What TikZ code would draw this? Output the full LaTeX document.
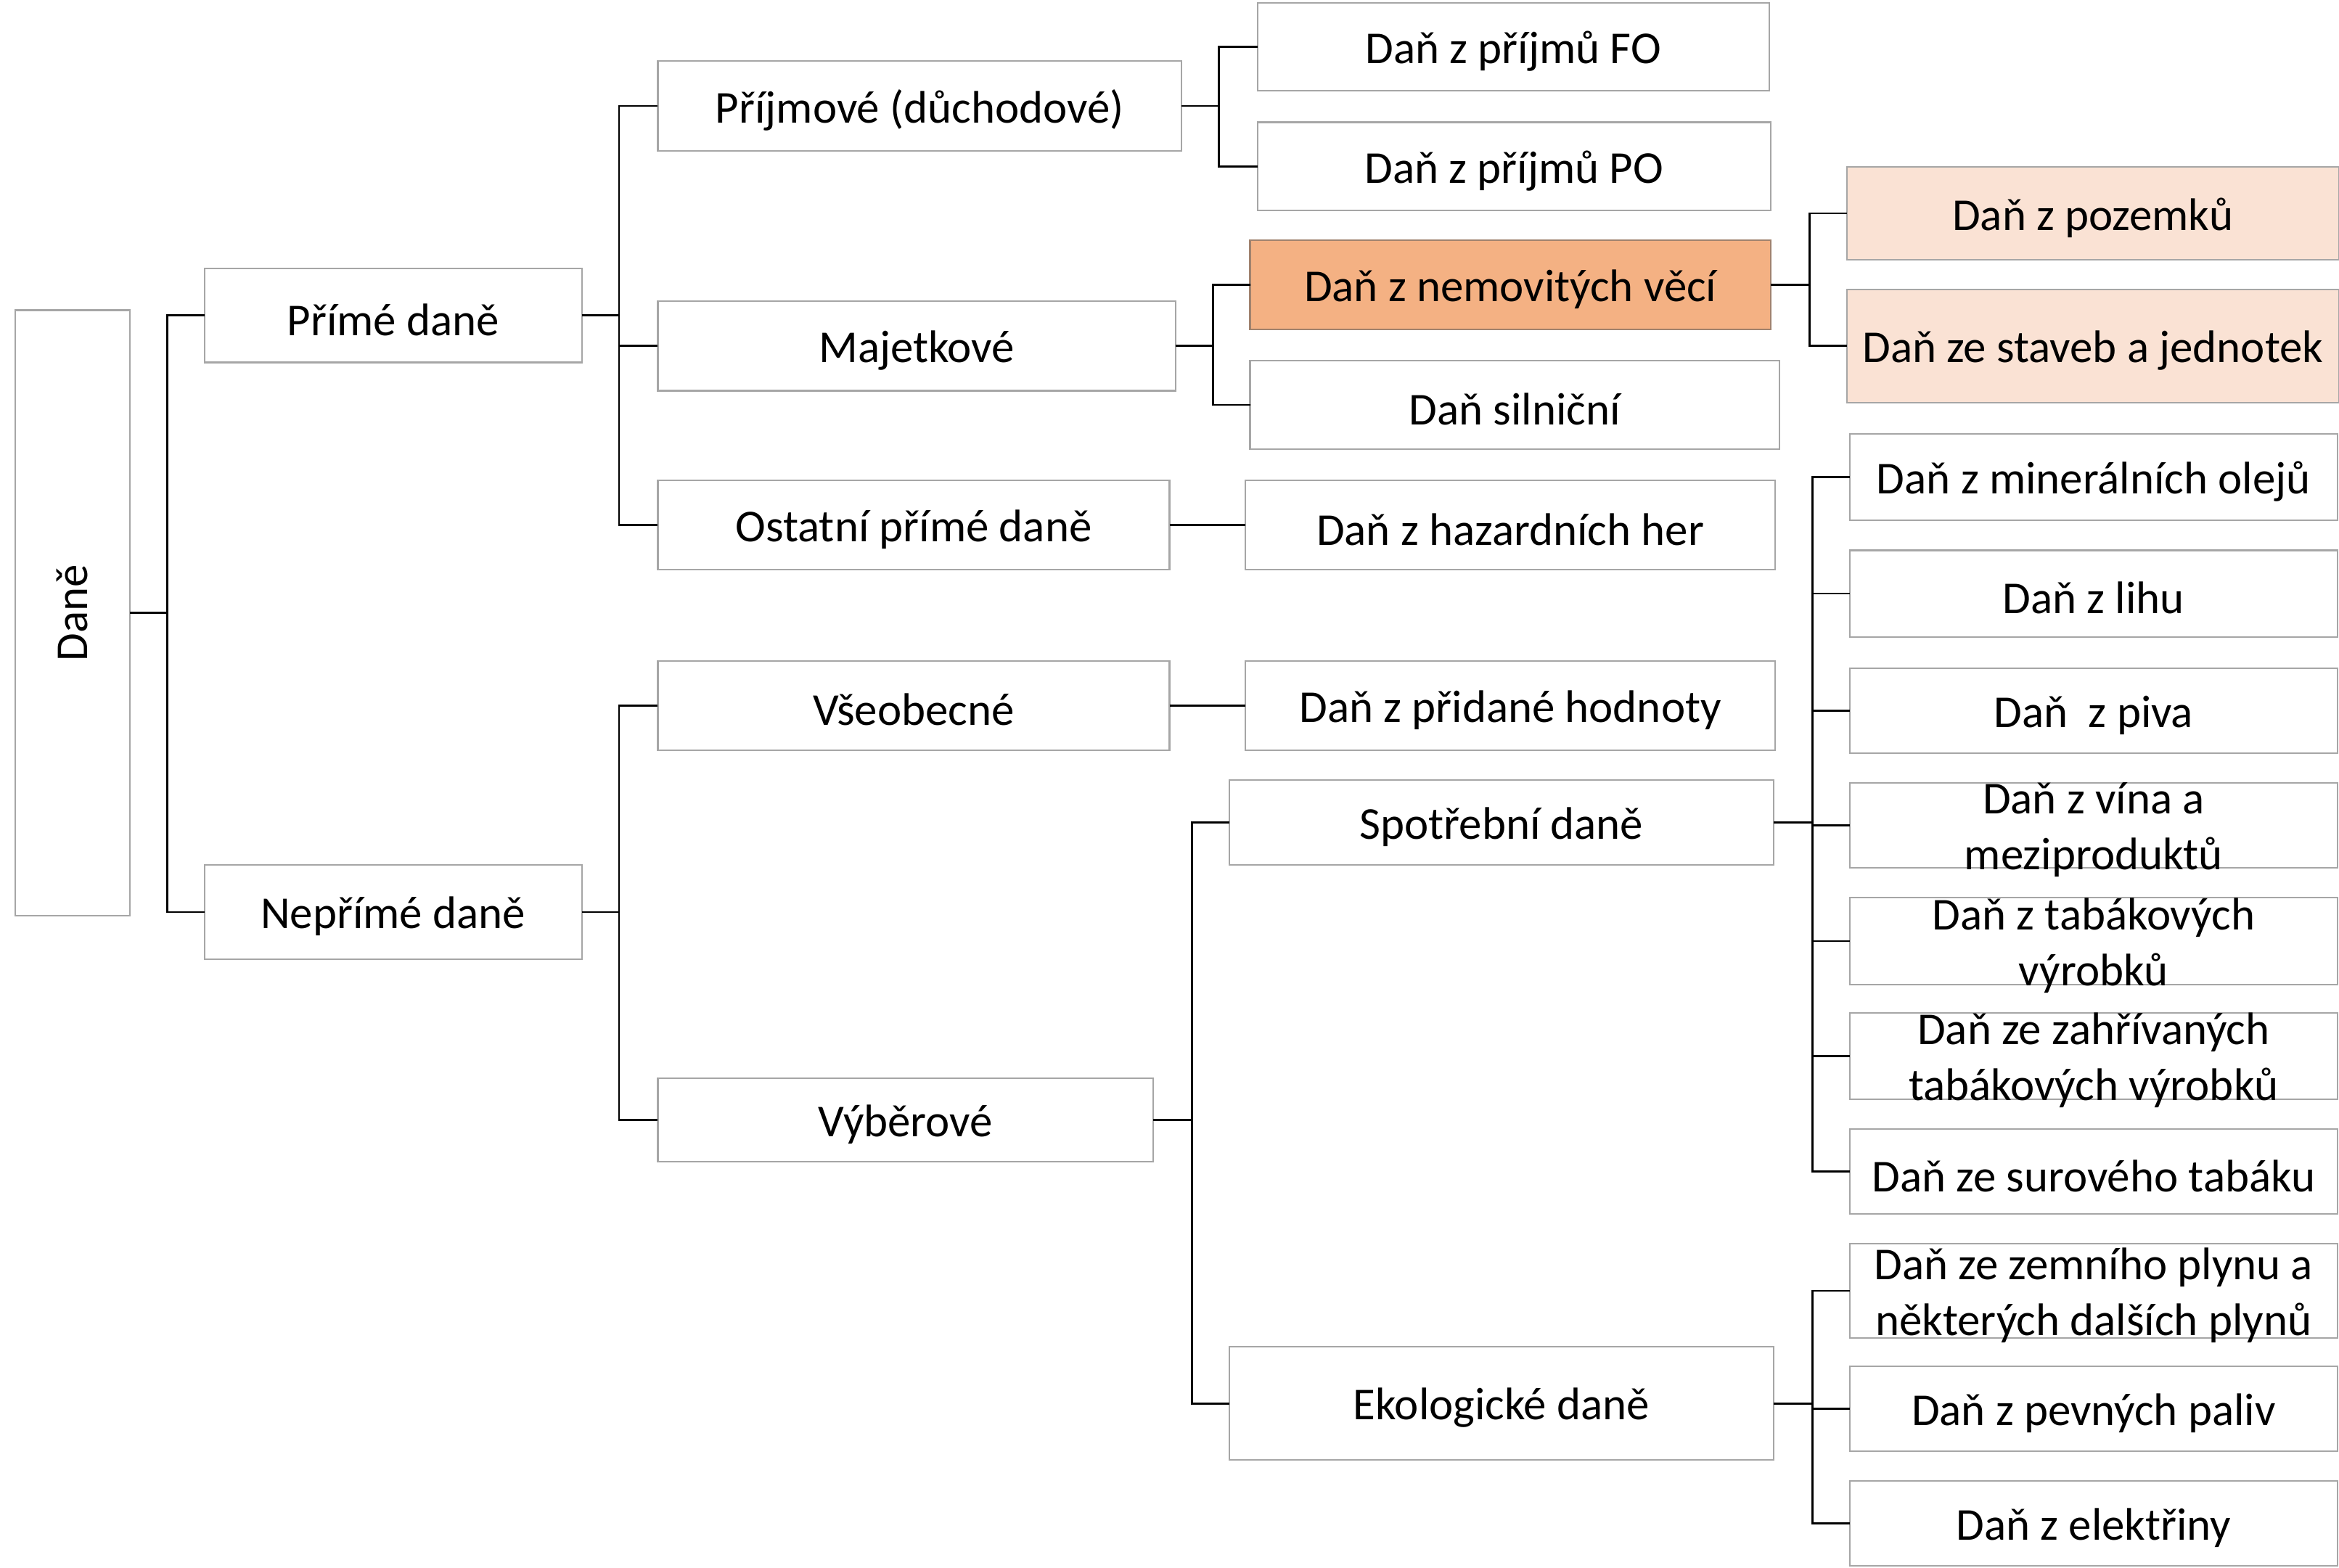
\documentclass[tikz,border=0pt]{standalone}
\usepackage{fontspec}
\setmainfont{Carlito}
\usetikzlibrary{fit}
\definecolor{boxgray}{RGB}{166,166,166}
\definecolor{orangefill}{RGB}{244,177,131}
\definecolor{orangeline}{RGB}{160,130,110}
\definecolor{peachfill}{RGB}{250,226,212}
\newcommand\dtext{\fontsize{17.9pt}{21.9pt}\selectfont}
\tikzset{
  box/.style={draw=boxgray, line width=0.6pt, fill=white, inner sep=0pt, outer sep=0pt},
  labbase/.style={font=\dtext, align=center, inner sep=0pt, text=black},
  lab/.style={labbase, yshift=-0.06cm},
  conn/.style={draw=black, line width=0.8pt},
}
\begin{document}
\begin{tikzpicture}[x=0.020555cm,y=-0.020555cm]
\useasboundingbox[fill=white] (0,0) rectangle (1568,1051);
% level 0
\node[box, fit={(10,208)(87,614)}, label={[labbase,rotate=90]center:Daně}] (dane) {};
% level 1
\node[box, fit={(137,180)(390,243)}, label={[lab]center:Přímé daně}] (prime) {};
\node[box, fit={(137,580)(390,643)}, label={[lab]center:Nepřímé daně}] (neprime) {};
% level 2
\node[box, fit={(441,41)(792,101)}, label={[lab]center:Příjmové (důchodové)}] (prij) {};
\node[box, fit={(441,202)(788,262)}, label={[lab]center:Majetkové}] (majet) {};
\node[box, fit={(441,322)(784,382)}, label={[lab]center:Ostatní přímé daně}] (ostat) {};
\node[box, fit={(441,443)(784,503)}, label={[lab]center:Všeobecné}] (vseob) {};
\node[box, fit={(441,723)(773,779)}, label={[lab]center:Výběrové}] (vyber) {};
% level 3
\node[box, fit={(843,2)(1186,61)}, label={[lab]center:Daň z příjmů FO}] (fo) {};
\node[box, fit={(843,82)(1187,141)}, label={[lab]center:Daň z příjmů PO}] (po) {};
\node[box, draw=orangeline, fill=orangefill, fit={(838,161)(1187,221)}, label={[lab]center:Daň z nemovitých věcí}] (nemov) {};
\node[box, fit={(838,242)(1193,301)}, label={[lab]center:Daň silniční}] (silnic) {};
\node[box, fit={(835,322)(1190,382)}, label={[lab]center:Daň z hazardních her}] (hazard) {};
\node[box, fit={(835,443)(1190,503)}, label={[lab]center:Daň z přidané hodnoty}] (dph) {};
\node[box, fit={(824,523)(1189,580)}, label={[lab]center:Spotřební daně}] (spotr) {};
\node[box, fit={(824,903)(1189,979)}, label={[lab]center:Ekologické daně}] (ekol) {};
% level 4
\node[box, fill=peachfill, fit={(1238,112)(1568,174)}, label={[lab]center:Daň z pozemků}] (pozem) {};
\node[box, fill=peachfill, fit={(1238,194)(1568,270)}, label={[lab]center:Daň ze staveb a jednotek}] (staveb) {};
\node[box, fit={(1240,291)(1567,349)}, label={[lab]center:Daň z minerálních olejů}] (miner) {};
\node[box, fit={(1240,369)(1567,427)}, label={[lab]center:Daň z lihu}] (lih) {};
\node[box, fit={(1240,448)(1567,505)}, label={[lab]center:Daň\ \ z piva}] (pivo) {};
\node[box, fit={(1240,525)(1567,582)}, label={[lab]center:Daň z vína a\\meziproduktů}] (vino) {};
\node[box, fit={(1240,602)(1567,660)}, label={[lab]center:Daň z tabákových\\výrobků}] (tabak) {};
\node[box, fit={(1240,679)(1567,737)}, label={[lab]center:Daň ze zahřívaných\\tabákových výrobků}] (zahriv) {};
\node[box, fit={(1240,757)(1567,814)}, label={[lab]center:Daň ze surového tabáku}] (surov) {};
\node[box, fit={(1240,834)(1567,897)}, label={[lab]center:Daň ze zemního plynu a\\některých dalších plynů}] (plyn) {};
\node[box, fit={(1240,916)(1567,973)}, label={[lab]center:Daň z pevných paliv}] (paliv) {};
\node[box, fit={(1240,993)(1567,1050)}, label={[lab]center:Daň z elektřiny}] (elektr) {};
% connectors
\draw[conn] (dane.east) -- ++(25,0) coordinate (j0);
\draw[conn] (j0) |- (prime.west);
\draw[conn] (j0) |- (neprime.west);
\draw[conn] (prime.east) -- ++(25,0) coordinate (j1);
\draw[conn] (j1) |- (prij.west);
\draw[conn] (j1) |- (majet.west);
\draw[conn] (j1) |- (ostat.west);
\draw[conn] (neprime.east) -- ++(25,0) coordinate (j2);
\draw[conn] (j2) |- (vseob.west);
\draw[conn] (j2) |- (vyber.west);
\draw[conn] (prij.east) -- ++(25,0) coordinate (j3);
\draw[conn] (j3) |- (fo.west);
\draw[conn] (j3) |- (po.west);
\draw[conn] (majet.east) -- ++(25,0) coordinate (j4);
\draw[conn] (j4) |- (nemov.west);
\draw[conn] (j4) |- (silnic.west);
\draw[conn] (ostat.east) -- (hazard.west);
\draw[conn] (vseob.east) -- (dph.west);
\draw[conn] (vyber.east) -- ++(26,0) coordinate (j5);
\draw[conn] (j5) |- (spotr.west);
\draw[conn] (j5) |- (ekol.west);
\draw[conn] (nemov.east) -- ++(26,0) coordinate (j6);
\draw[conn] (j6) |- (pozem.west);
\draw[conn] (j6) |- (staveb.west);
\draw[conn] (spotr.east) -- ++(26,0) coordinate (j7);
\foreach \t in {miner,lih,pivo,vino,tabak,zahriv,surov}
  \draw[conn] (j7) |- (\t.west);
\draw[conn] (ekol.east) -- ++(26,0) coordinate (j8);
\foreach \t in {plyn,paliv,elektr}
  \draw[conn] (j8) |- (\t.west);
\end{tikzpicture}
\end{document}
